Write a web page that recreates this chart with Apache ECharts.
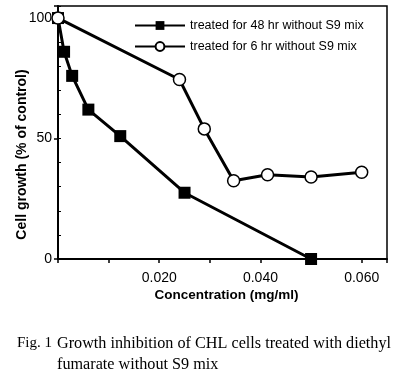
<!DOCTYPE html>
<html><head><meta charset="utf-8">
<script src="https://cdn.jsdelivr.net/npm/echarts@6/dist/echarts.min.js"></script>
<style>html,body{margin:0;padding:0;background:#fff}#c{width:396px;height:385px}</style>
</head><body><div id="c"></div>
<script>
const conc48 = [0, 0.0012, 0.0028, 0.006, 0.0123, 0.025, 0.05];
const growth48 = [100, 86, 76, 62, 51, 27.5, 0];
const conc6 = [0, 0.024, 0.0289, 0.0347, 0.0414, 0.05, 0.06];
const growth6 = [100, 74.5, 54, 32.5, 35, 34, 36];
const seriesNames = ['treated for 48 hr without S9 mix', 'treated for 6 hr without S9 mix'];
const xLabels = [0.02, 0.04, 0.06];
const yLabels = [0, 50, 100];
const xTitle = 'Concentration (mg/ml)';
const yTitle = 'Cell growth (% of control)';
const caption1a = 'Fig. 1';
const caption1b = 'Growth inhibition of CHL cells treated with diethyl';
const caption2 = 'fumarate without S9 mix';

const chart = echarts.init(document.getElementById('c'), null, {renderer: 'canvas'});
const sans = 'Liberation Sans';
const zip = (a, b) => a.map((v, i) => [v, b[i]]);
chart.setOption({
  animation: false,
  backgroundColor: '#fff',
  grid: {left: 58, top: 6, right: 9, bottom: 126, show: true, borderColor: '#000', borderWidth: 1.5,
    containLabel: false, outerBoundsMode: 'none'},
  legend: {
    orient: 'vertical', left: 129, top: 14, itemWidth: 50, itemHeight: 11, itemGap: 8,
    textStyle: {fontFamily: sans, fontSize: 12.5, color: '#000'},
    data: seriesNames
  },
  xAxis: {
    type: 'value', min: 0, max: 0.065, interval: 0.01,
    splitLine: {show: false},
    axisLine: {lineStyle: {color: '#000', width: 2}},
    axisTick: {length: 4, lineStyle: {color: '#000', width: 1.5}},
    axisLabel: {fontFamily: sans, fontSize: 14, color: '#000', margin: 12,
      formatter: v => xLabels.some(t => Math.abs(t - v) < 1e-9) ? v.toFixed(3) : ''},
    name: xTitle, nameLocation: 'middle', nameGap: 29, nameMoveOverlap: false,
    nameTextStyle: {fontFamily: sans, fontSize: 13.5, fontWeight: 'bold', color: '#000', padding: [0, 0, 0, 8]}
  },
  yAxis: [{
    type: 'value', min: 0, max: 105, interval: 50,
    splitLine: {show: false},
    axisLine: {lineStyle: {color: '#000', width: 2}},
    axisTick: {length: 4, lineStyle: {color: '#000', width: 1.5}},
    axisLabel: {fontFamily: sans, fontSize: 14, color: '#000', margin: 6,
      formatter: v => yLabels.includes(v) ? String(v) : ''},
    name: yTitle, nameLocation: 'middle', nameGap: 29, nameMoveOverlap: false,
    nameTextStyle: {fontFamily: sans, fontSize: 14, fontWeight: 'bold', color: '#000', padding: [0, 44, 0, 0]}
  }, {
    type: 'value', min: 0, max: 105, interval: 10, position: 'left',
    splitLine: {show: false},
    axisLine: {show: false},
    axisTick: {inside: true, length: 3, lineStyle: {color: '#000', width: 1}},
    axisLabel: {show: false}
  }],
  series: [{
    name: seriesNames[0], type: 'line', data: zip(conc48, growth48),
    symbol: 'rect', symbolSize: 12,
    lineStyle: {color: '#000', width: 3},
    itemStyle: {color: '#000', borderColor: '#000', borderWidth: 0}
  }, {
    name: seriesNames[1], type: 'line', data: zip(conc6, growth6),
    symbol: 'circle', symbolSize: 12,
    lineStyle: {color: '#000', width: 3},
    itemStyle: {color: '#fff', borderColor: '#000', borderWidth: 1.5}
  }],
  graphic: [
    {type: 'text', left: 17, top: 336, style: {text: caption1a, font: '15px "Liberation Serif"', fill: '#000'}},
    {type: 'text', left: 57, top: 336, style: {text: caption1b, font: '16.2px "Liberation Serif"', fill: '#000'}},
    {type: 'text', left: 57, top: 357, style: {text: caption2, font: '16.2px "Liberation Serif"', fill: '#000'}}
  ]
});
</script></body></html>
